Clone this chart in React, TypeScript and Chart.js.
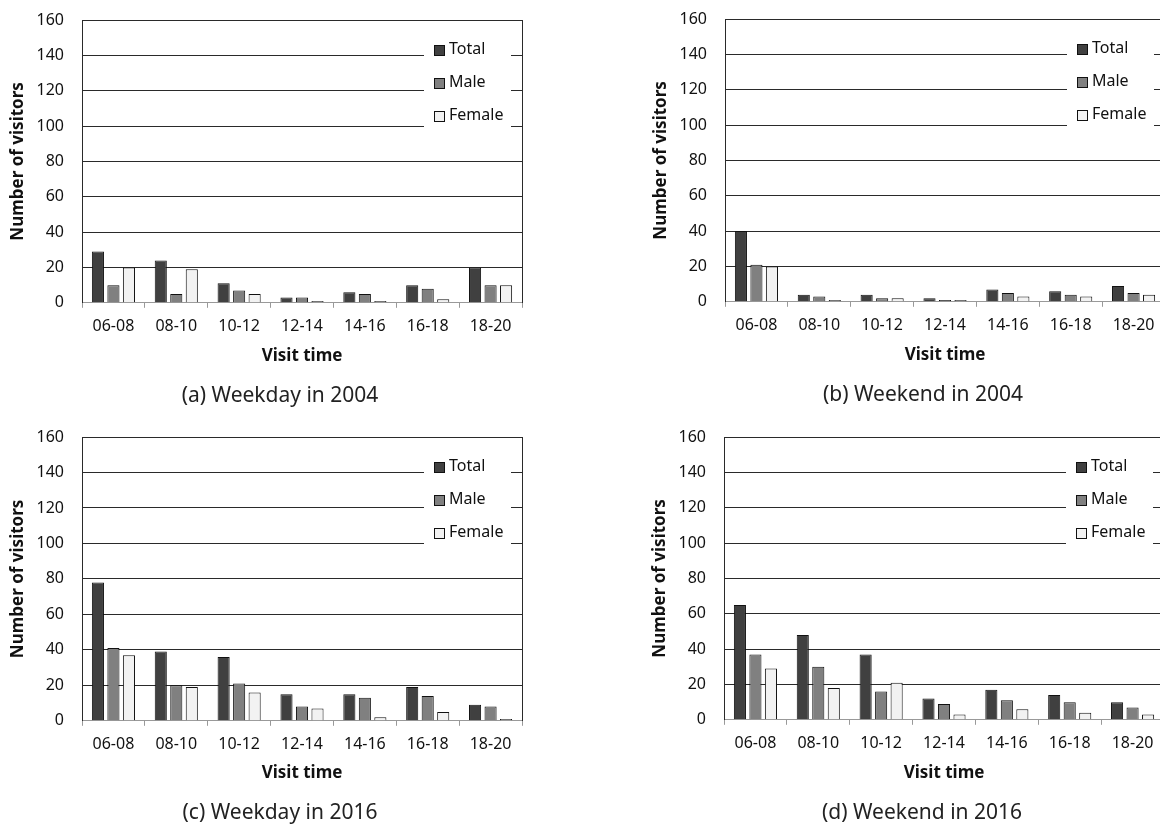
import React, { useEffect, useRef } from "react";
import { Chart, registerables } from "chart.js";

Chart.register(...registerables);

const categories = ["06-08", "08-10", "10-12", "12-14", "14-16", "16-18", "18-20"];
const seriesNames = ["Total", "Male", "Female"];
const yTicks = [0, 20, 40, 60, 80, 100, 120, 140, 160];

const weekday2004Total = [29, 24, 11, 3, 6, 10, 20];
const weekday2004Male = [10, 5, 7, 3, 5, 8, 10];
const weekday2004Female = [20, 19, 5, 1, 1, 2, 10];

const weekend2004Total = [40, 4, 4, 2, 7, 6, 9];
const weekend2004Male = [21, 3, 2, 1, 5, 4, 5];
const weekend2004Female = [20, 1, 2, 1, 3, 3, 4];

const weekday2016Total = [78, 39, 36, 15, 15, 19, 9];
const weekday2016Male = [41, 20, 21, 8, 13, 14, 8];
const weekday2016Female = [37, 19, 16, 7, 2, 5, 1];

const weekend2016Total = [65, 48, 37, 12, 17, 14, 10];
const weekend2016Male = [37, 30, 16, 9, 11, 10, 7];
const weekend2016Female = [29, 18, 21, 3, 6, 4, 3];

const captions = [
  "(a) Weekday in 2004",
  "(b) Weekend in 2004",
  "(c) Weekday in 2016",
  "(d) Weekend in 2016",
];

const FILLS = ["#404040", "#808080", "#f2f2f2"];
const FONT = "'Noto Sans', 'Open Sans', sans-serif";

const legendBox = {
  id: "legendBox",
  afterDraw(chart: any) {
    const { ctx, chartArea } = chart;
    ctx.save();
    const boxRight = chartArea.right - 11;
    const boxLeft = boxRight - 87;
    const boxTop = chartArea.top + 8;
    const boxBottom = chartArea.top + 112;
    ctx.fillStyle = "#ffffff";
    ctx.fillRect(boxLeft, boxTop, boxRight - boxLeft, boxBottom - boxTop);
    ctx.font = `16px ${FONT}`;
    ctx.textBaseline = "middle";
    ctx.textAlign = "left";
    chart.data.datasets.forEach((ds: any, i: number) => {
      const cy = chartArea.top + 29.5 + i * 33;
      const sx = boxLeft + 10;
      const sy = Math.round(cy - 5) + 0.5;
      ctx.fillStyle = ds.backgroundColor;
      ctx.fillRect(sx + 0.5, sy, 10, 10);
      ctx.strokeStyle = "#111";
      ctx.lineWidth = 1;
      ctx.strokeRect(sx + 0.5, sy, 10, 10);
      ctx.fillStyle = "#111";
      ctx.fillText(ds.label, sx + 15, cy);
    });
    ctx.restore();
  },
};

type PanelProps = {
  left: number;
  top: number;
  xHeight: number;
  caption: string;
  series: number[][];
};

function Panel({ left, top, xHeight, caption, series }: PanelProps) {
  const ref = useRef<HTMLCanvasElement>(null);
  useEffect(() => {
    if (!ref.current) return;
    const chart = new Chart(ref.current, {
      type: "bar",
      data: {
        labels: categories,
        datasets: series.map((values, i) => ({
          label: seriesNames[i],
          data: values,
          backgroundColor: FILLS[i],
          borderColor: "#111",
          borderWidth: 1,
          categoryPercentage: 0.74,
          barPercentage: 0.78,
          yAxisID: "y",
        })),
      },
      options: {
        responsive: false,
        animation: false,
        devicePixelRatio: 1,
        layout: { padding: { top: 20, right: 0, left: 0, bottom: 0 } },
        plugins: {
          legend: { display: false },
          tooltip: { enabled: false },
          title: {
            display: true,
            text: caption,
            position: "bottom",
            color: "#222",
            font: { family: FONT, size: 21, weight: "normal" },
            padding: { top: 0, bottom: 3 },
          },
        },
        scales: {
          x: {
            afterFit(scale: any) {
              scale.height = xHeight;
            },
            grid: {
              display: true,
              offset: true,
              drawOnChartArea: false,
              drawTicks: true,
              tickLength: 5,
              color: "#999",
            },
            border: { display: true, color: "#999", width: 1 },
            ticks: {
              color: "#111",
              font: { family: FONT, size: 16 },
              padding: 9,
              maxRotation: 0,
            },
            title: {
              display: true,
              text: "Visit time",
              color: "#111",
              font: { family: FONT, size: 17, weight: "bold" },
              padding: { top: 0, bottom: 17 },
            },
          },
          y: {
            min: 0,
            max: 160,
            afterFit(scale: any) {
              scale.width = 82;
            },
            afterBuildTicks(scale: any) {
              scale.ticks = yTicks.map((v) => ({ value: v }));
            },
            grid: {
              color: (c: any) => (c.tick && c.tick.value === 0 ? "rgba(0,0,0,0)" : "#2a2a2a"),
              lineWidth: 1,
              drawTicks: true,
              tickLength: 18,
              tickColor: "rgba(0,0,0,0)",
            },
            border: { display: true, color: "#2a2a2a", width: 1 },
            ticks: {
              color: "#111",
              font: { family: FONT, size: 16 },
              padding: 0,
            },
            title: {
              display: true,
              text: "Number of visitors",
              color: "#111",
              font: { family: FONT, size: 17, weight: "bold" },
              padding: { top: 8, bottom: 0 },
            },
          },
          yRight: {
            position: "right",
            min: 0,
            max: 160,
            afterFit(scale: any) {
              scale.width = 38;
            },
            grid: { drawOnChartArea: false, drawTicks: false },
            border: { display: true, color: "#2a2a2a", width: 1 },
            ticks: { display: false, padding: 0 },
          },
        },
      },
      plugins: [legendBox],
    });
    return () => chart.destroy();
  }, []);
  return (
    <div style={{ position: "absolute", left, top, width: 560, height: 412 }}>
      <canvas ref={ref} width={560} height={412} style={{ display: "block" }} />
    </div>
  );
}

export default function App() {
  return (
    <div
      style={{
        position: "fixed",
        left: 0,
        top: 0,
        width: 1160,
        height: 825,
        overflow: "hidden",
        background: "#ffffff",
      }}
    >
      <Panel left={0} top={0} xHeight={81} caption={captions[0]}
        series={[weekday2004Total, weekday2004Male, weekday2004Female]} />
      <Panel left={643} top={-1} xHeight={81} caption={captions[1]}
        series={[weekend2004Total, weekend2004Male, weekend2004Female]} />
      <Panel left={0} top={417} xHeight={80} caption={captions[2]}
        series={[weekday2016Total, weekday2016Male, weekday2016Female]} />
      <Panel left={642} top={417} xHeight={81} caption={captions[3]}
        series={[weekend2016Total, weekend2016Male, weekend2016Female]} />
    </div>
  );
}
